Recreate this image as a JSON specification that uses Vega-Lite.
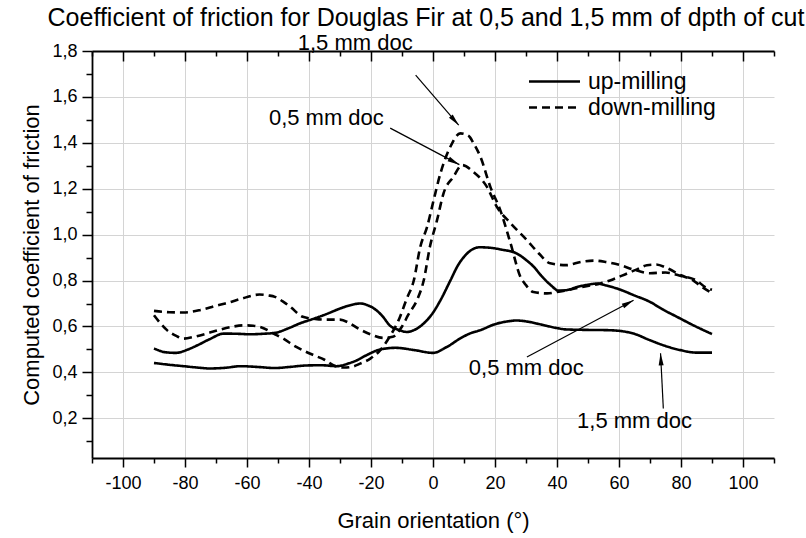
{
  "$schema": "https://vega.github.io/schema/vega-lite/v6.json",
  "width": 682,
  "height": 407,
  "autosize": {"type": "none"},
  "padding": {"left": 92, "top": 51, "right": 32, "bottom": 80},
  "background": "white",
  "config": {"font": "Liberation Sans", "view": {"stroke": null}},
  "title": {"text": "Coefficient of friction for Douglas Fir at 0,5 and 1,5 mm of dpth of cut", "fontSize": 25, "fontWeight": "normal", "color": "black", "anchor": "middle", "offset": 1, "dx": -7},
  "datasets": {
    "curves": [
      {"milling": "up-milling", "doc": "0,5", "angle": -90, "cof": 0.504},
      {"milling": "up-milling", "doc": "0,5", "angle": -86, "cof": 0.487},
      {"milling": "up-milling", "doc": "0,5", "angle": -83, "cof": 0.485},
      {"milling": "up-milling", "doc": "0,5", "angle": -79, "cof": 0.5},
      {"milling": "up-milling", "doc": "0,5", "angle": -76, "cof": 0.518},
      {"milling": "up-milling", "doc": "0,5", "angle": -72, "cof": 0.545},
      {"milling": "up-milling", "doc": "0,5", "angle": -67.5, "cof": 0.569},
      {"milling": "up-milling", "doc": "0,5", "angle": -63, "cof": 0.568},
      {"milling": "up-milling", "doc": "0,5", "angle": -59, "cof": 0.566},
      {"milling": "up-milling", "doc": "0,5", "angle": -55, "cof": 0.568},
      {"milling": "up-milling", "doc": "0,5", "angle": -51, "cof": 0.572},
      {"milling": "up-milling", "doc": "0,5", "angle": -47, "cof": 0.59},
      {"milling": "up-milling", "doc": "0,5", "angle": -43, "cof": 0.613},
      {"milling": "up-milling", "doc": "0,5", "angle": -38, "cof": 0.636},
      {"milling": "up-milling", "doc": "0,5", "angle": -34, "cof": 0.656},
      {"milling": "up-milling", "doc": "0,5", "angle": -30, "cof": 0.678},
      {"milling": "up-milling", "doc": "0,5", "angle": -26, "cof": 0.695},
      {"milling": "up-milling", "doc": "0,5", "angle": -23.5, "cof": 0.7},
      {"milling": "up-milling", "doc": "0,5", "angle": -21, "cof": 0.692},
      {"milling": "up-milling", "doc": "0,5", "angle": -19, "cof": 0.678},
      {"milling": "up-milling", "doc": "0,5", "angle": -16, "cof": 0.64},
      {"milling": "up-milling", "doc": "0,5", "angle": -14, "cof": 0.605},
      {"milling": "up-milling", "doc": "0,5", "angle": -11, "cof": 0.585},
      {"milling": "up-milling", "doc": "0,5", "angle": -8.4, "cof": 0.576},
      {"milling": "up-milling", "doc": "0,5", "angle": -6, "cof": 0.585},
      {"milling": "up-milling", "doc": "0,5", "angle": -3, "cof": 0.613},
      {"milling": "up-milling", "doc": "0,5", "angle": 0, "cof": 0.66},
      {"milling": "up-milling", "doc": "0,5", "angle": 2.4, "cof": 0.714},
      {"milling": "up-milling", "doc": "0,5", "angle": 5.6, "cof": 0.8},
      {"milling": "up-milling", "doc": "0,5", "angle": 8, "cof": 0.865},
      {"milling": "up-milling", "doc": "0,5", "angle": 11, "cof": 0.918},
      {"milling": "up-milling", "doc": "0,5", "angle": 15, "cof": 0.945},
      {"milling": "up-milling", "doc": "0,5", "angle": 19, "cof": 0.942},
      {"milling": "up-milling", "doc": "0,5", "angle": 22, "cof": 0.935},
      {"milling": "up-milling", "doc": "0,5", "angle": 27, "cof": 0.918},
      {"milling": "up-milling", "doc": "0,5", "angle": 30, "cof": 0.89},
      {"milling": "up-milling", "doc": "0,5", "angle": 32.5, "cof": 0.86},
      {"milling": "up-milling", "doc": "0,5", "angle": 35, "cof": 0.82},
      {"milling": "up-milling", "doc": "0,5", "angle": 38, "cof": 0.78},
      {"milling": "up-milling", "doc": "0,5", "angle": 40.5, "cof": 0.756},
      {"milling": "up-milling", "doc": "0,5", "angle": 43, "cof": 0.758},
      {"milling": "up-milling", "doc": "0,5", "angle": 46.5, "cof": 0.772},
      {"milling": "up-milling", "doc": "0,5", "angle": 50, "cof": 0.782},
      {"milling": "up-milling", "doc": "0,5", "angle": 53, "cof": 0.787},
      {"milling": "up-milling", "doc": "0,5", "angle": 56, "cof": 0.778},
      {"milling": "up-milling", "doc": "0,5", "angle": 59.4, "cof": 0.765},
      {"milling": "up-milling", "doc": "0,5", "angle": 65, "cof": 0.735},
      {"milling": "up-milling", "doc": "0,5", "angle": 70, "cof": 0.707},
      {"milling": "up-milling", "doc": "0,5", "angle": 74, "cof": 0.675},
      {"milling": "up-milling", "doc": "0,5", "angle": 78.7, "cof": 0.642},
      {"milling": "up-milling", "doc": "0,5", "angle": 84, "cof": 0.605},
      {"milling": "up-milling", "doc": "0,5", "angle": 90, "cof": 0.567},

      {"milling": "up-milling", "doc": "1,5", "angle": -90, "cof": 0.441},
      {"milling": "up-milling", "doc": "1,5", "angle": -85, "cof": 0.433},
      {"milling": "up-milling", "doc": "1,5", "angle": -80.5, "cof": 0.427},
      {"milling": "up-milling", "doc": "1,5", "angle": -76, "cof": 0.421},
      {"milling": "up-milling", "doc": "1,5", "angle": -72, "cof": 0.417},
      {"milling": "up-milling", "doc": "1,5", "angle": -67, "cof": 0.42},
      {"milling": "up-milling", "doc": "1,5", "angle": -62, "cof": 0.427},
      {"milling": "up-milling", "doc": "1,5", "angle": -57, "cof": 0.424},
      {"milling": "up-milling", "doc": "1,5", "angle": -51, "cof": 0.419},
      {"milling": "up-milling", "doc": "1,5", "angle": -46, "cof": 0.424},
      {"milling": "up-milling", "doc": "1,5", "angle": -41, "cof": 0.43},
      {"milling": "up-milling", "doc": "1,5", "angle": -36, "cof": 0.431},
      {"milling": "up-milling", "doc": "1,5", "angle": -31, "cof": 0.427},
      {"milling": "up-milling", "doc": "1,5", "angle": -27, "cof": 0.44},
      {"milling": "up-milling", "doc": "1,5", "angle": -24.5, "cof": 0.453},
      {"milling": "up-milling", "doc": "1,5", "angle": -21, "cof": 0.478},
      {"milling": "up-milling", "doc": "1,5", "angle": -17, "cof": 0.5},
      {"milling": "up-milling", "doc": "1,5", "angle": -12, "cof": 0.507},
      {"milling": "up-milling", "doc": "1,5", "angle": -6, "cof": 0.497},
      {"milling": "up-milling", "doc": "1,5", "angle": 0, "cof": 0.485},
      {"milling": "up-milling", "doc": "1,5", "angle": 4.5, "cof": 0.511},
      {"milling": "up-milling", "doc": "1,5", "angle": 8.8, "cof": 0.548},
      {"milling": "up-milling", "doc": "1,5", "angle": 12, "cof": 0.57},
      {"milling": "up-milling", "doc": "1,5", "angle": 15.3, "cof": 0.584},
      {"milling": "up-milling", "doc": "1,5", "angle": 20, "cof": 0.61},
      {"milling": "up-milling", "doc": "1,5", "angle": 24, "cof": 0.622},
      {"milling": "up-milling", "doc": "1,5", "angle": 27, "cof": 0.626},
      {"milling": "up-milling", "doc": "1,5", "angle": 31, "cof": 0.62},
      {"milling": "up-milling", "doc": "1,5", "angle": 35, "cof": 0.608},
      {"milling": "up-milling", "doc": "1,5", "angle": 40, "cof": 0.593},
      {"milling": "up-milling", "doc": "1,5", "angle": 43, "cof": 0.587},
      {"milling": "up-milling", "doc": "1,5", "angle": 50, "cof": 0.585},
      {"milling": "up-milling", "doc": "1,5", "angle": 56, "cof": 0.584},
      {"milling": "up-milling", "doc": "1,5", "angle": 60, "cof": 0.581},
      {"milling": "up-milling", "doc": "1,5", "angle": 64.7, "cof": 0.569},
      {"milling": "up-milling", "doc": "1,5", "angle": 70, "cof": 0.54},
      {"milling": "up-milling", "doc": "1,5", "angle": 75, "cof": 0.515},
      {"milling": "up-milling", "doc": "1,5", "angle": 79.8, "cof": 0.497},
      {"milling": "up-milling", "doc": "1,5", "angle": 85, "cof": 0.486},
      {"milling": "up-milling", "doc": "1,5", "angle": 90, "cof": 0.486},

      {"milling": "down-milling", "doc": "0,5", "angle": -90, "cof": 0.668},
      {"milling": "down-milling", "doc": "0,5", "angle": -85, "cof": 0.662},
      {"milling": "down-milling", "doc": "0,5", "angle": -80.5, "cof": 0.661},
      {"milling": "down-milling", "doc": "0,5", "angle": -75, "cof": 0.672},
      {"milling": "down-milling", "doc": "0,5", "angle": -70, "cof": 0.69},
      {"milling": "down-milling", "doc": "0,5", "angle": -67, "cof": 0.7},
      {"milling": "down-milling", "doc": "0,5", "angle": -62, "cof": 0.72},
      {"milling": "down-milling", "doc": "0,5", "angle": -56, "cof": 0.739},
      {"milling": "down-milling", "doc": "0,5", "angle": -53, "cof": 0.735},
      {"milling": "down-milling", "doc": "0,5", "angle": -51, "cof": 0.729},
      {"milling": "down-milling", "doc": "0,5", "angle": -48, "cof": 0.705},
      {"milling": "down-milling", "doc": "0,5", "angle": -46, "cof": 0.685},
      {"milling": "down-milling", "doc": "0,5", "angle": -42, "cof": 0.642},
      {"milling": "down-milling", "doc": "0,5", "angle": -38, "cof": 0.633},
      {"milling": "down-milling", "doc": "0,5", "angle": -35, "cof": 0.63},
      {"milling": "down-milling", "doc": "0,5", "angle": -30, "cof": 0.63},
      {"milling": "down-milling", "doc": "0,5", "angle": -27, "cof": 0.615},
      {"milling": "down-milling", "doc": "0,5", "angle": -24, "cof": 0.59},
      {"milling": "down-milling", "doc": "0,5", "angle": -20, "cof": 0.565},
      {"milling": "down-milling", "doc": "0,5", "angle": -16, "cof": 0.55},
      {"milling": "down-milling", "doc": "0,5", "angle": -13, "cof": 0.555},
      {"milling": "down-milling", "doc": "0,5", "angle": -10, "cof": 0.6},
      {"milling": "down-milling", "doc": "0,5", "angle": -8, "cof": 0.65},
      {"milling": "down-milling", "doc": "0,5", "angle": -5, "cof": 0.72},
      {"milling": "down-milling", "doc": "0,5", "angle": -3, "cof": 0.8},
      {"milling": "down-milling", "doc": "0,5", "angle": -1, "cof": 0.947},
      {"milling": "down-milling", "doc": "0,5", "angle": 1.3, "cof": 1.063},
      {"milling": "down-milling", "doc": "0,5", "angle": 3.4, "cof": 1.18},
      {"milling": "down-milling", "doc": "0,5", "angle": 6.6, "cof": 1.252},
      {"milling": "down-milling", "doc": "0,5", "angle": 9.4, "cof": 1.303},
      {"milling": "down-milling", "doc": "0,5", "angle": 13, "cof": 1.274},
      {"milling": "down-milling", "doc": "0,5", "angle": 17.4, "cof": 1.208},
      {"milling": "down-milling", "doc": "0,5", "angle": 20.6, "cof": 1.121},
      {"milling": "down-milling", "doc": "0,5", "angle": 25, "cof": 1.05},
      {"milling": "down-milling", "doc": "0,5", "angle": 30.3, "cof": 0.976},
      {"milling": "down-milling", "doc": "0,5", "angle": 34, "cof": 0.92},
      {"milling": "down-milling", "doc": "0,5", "angle": 37.8, "cof": 0.875},
      {"milling": "down-milling", "doc": "0,5", "angle": 43, "cof": 0.867},
      {"milling": "down-milling", "doc": "0,5", "angle": 48, "cof": 0.882},
      {"milling": "down-milling", "doc": "0,5", "angle": 52, "cof": 0.887},
      {"milling": "down-milling", "doc": "0,5", "angle": 56, "cof": 0.88},
      {"milling": "down-milling", "doc": "0,5", "angle": 60.4, "cof": 0.867},
      {"milling": "down-milling", "doc": "0,5", "angle": 64.7, "cof": 0.848},
      {"milling": "down-milling", "doc": "0,5", "angle": 70, "cof": 0.832},
      {"milling": "down-milling", "doc": "0,5", "angle": 75, "cof": 0.835},
      {"milling": "down-milling", "doc": "0,5", "angle": 80, "cof": 0.82},
      {"milling": "down-milling", "doc": "0,5", "angle": 85, "cof": 0.8},
      {"milling": "down-milling", "doc": "0,5", "angle": 88, "cof": 0.77},
      {"milling": "down-milling", "doc": "0,5", "angle": 90, "cof": 0.76},

      {"milling": "down-milling", "doc": "1,5", "angle": -90, "cof": 0.649},
      {"milling": "down-milling", "doc": "1,5", "angle": -88, "cof": 0.615},
      {"milling": "down-milling", "doc": "1,5", "angle": -85.8, "cof": 0.584},
      {"milling": "down-milling", "doc": "1,5", "angle": -83, "cof": 0.56},
      {"milling": "down-milling", "doc": "1,5", "angle": -80.5, "cof": 0.547},
      {"milling": "down-milling", "doc": "1,5", "angle": -77, "cof": 0.555},
      {"milling": "down-milling", "doc": "1,5", "angle": -73, "cof": 0.569},
      {"milling": "down-milling", "doc": "1,5", "angle": -69, "cof": 0.585},
      {"milling": "down-milling", "doc": "1,5", "angle": -65, "cof": 0.598},
      {"milling": "down-milling", "doc": "1,5", "angle": -61, "cof": 0.605},
      {"milling": "down-milling", "doc": "1,5", "angle": -58, "cof": 0.603},
      {"milling": "down-milling", "doc": "1,5", "angle": -55.7, "cof": 0.598},
      {"milling": "down-milling", "doc": "1,5", "angle": -51.4, "cof": 0.569},
      {"milling": "down-milling", "doc": "1,5", "angle": -48, "cof": 0.545},
      {"milling": "down-milling", "doc": "1,5", "angle": -45, "cof": 0.518},
      {"milling": "down-milling", "doc": "1,5", "angle": -41, "cof": 0.49},
      {"milling": "down-milling", "doc": "1,5", "angle": -38.5, "cof": 0.475},
      {"milling": "down-milling", "doc": "1,5", "angle": -35, "cof": 0.455},
      {"milling": "down-milling", "doc": "1,5", "angle": -32, "cof": 0.43},
      {"milling": "down-milling", "doc": "1,5", "angle": -28.8, "cof": 0.421},
      {"milling": "down-milling", "doc": "1,5", "angle": -26, "cof": 0.425},
      {"milling": "down-milling", "doc": "1,5", "angle": -23.5, "cof": 0.438},
      {"milling": "down-milling", "doc": "1,5", "angle": -20.2, "cof": 0.46},
      {"milling": "down-milling", "doc": "1,5", "angle": -17, "cof": 0.497},
      {"milling": "down-milling", "doc": "1,5", "angle": -14, "cof": 0.555},
      {"milling": "down-milling", "doc": "1,5", "angle": -11, "cof": 0.63},
      {"milling": "down-milling", "doc": "1,5", "angle": -8.5, "cof": 0.72},
      {"milling": "down-milling", "doc": "1,5", "angle": -6.2, "cof": 0.8},
      {"milling": "down-milling", "doc": "1,5", "angle": -4.1, "cof": 0.947},
      {"milling": "down-milling", "doc": "1,5", "angle": -1.9, "cof": 1.034},
      {"milling": "down-milling", "doc": "1,5", "angle": 0.2, "cof": 1.15},
      {"milling": "down-milling", "doc": "1,5", "angle": 2.4, "cof": 1.267},
      {"milling": "down-milling", "doc": "1,5", "angle": 5.6, "cof": 1.383},
      {"milling": "down-milling", "doc": "1,5", "angle": 8.8, "cof": 1.441},
      {"milling": "down-milling", "doc": "1,5", "angle": 11.5, "cof": 1.43},
      {"milling": "down-milling", "doc": "1,5", "angle": 13, "cof": 1.4},
      {"milling": "down-milling", "doc": "1,5", "angle": 15.3, "cof": 1.339},
      {"milling": "down-milling", "doc": "1,5", "angle": 18.5, "cof": 1.208},
      {"milling": "down-milling", "doc": "1,5", "angle": 21.7, "cof": 1.107},
      {"milling": "down-milling", "doc": "1,5", "angle": 25, "cof": 0.963},
      {"milling": "down-milling", "doc": "1,5", "angle": 28.2, "cof": 0.816},
      {"milling": "down-milling", "doc": "1,5", "angle": 30, "cof": 0.78},
      {"milling": "down-milling", "doc": "1,5", "angle": 32.4, "cof": 0.75},
      {"milling": "down-milling", "doc": "1,5", "angle": 36.8, "cof": 0.744},
      {"milling": "down-milling", "doc": "1,5", "angle": 40, "cof": 0.75},
      {"milling": "down-milling", "doc": "1,5", "angle": 43.2, "cof": 0.758},
      {"milling": "down-milling", "doc": "1,5", "angle": 48, "cof": 0.772},
      {"milling": "down-milling", "doc": "1,5", "angle": 54, "cof": 0.787},
      {"milling": "down-milling", "doc": "1,5", "angle": 58, "cof": 0.805},
      {"milling": "down-milling", "doc": "1,5", "angle": 62.6, "cof": 0.831},
      {"milling": "down-milling", "doc": "1,5", "angle": 66, "cof": 0.85},
      {"milling": "down-milling", "doc": "1,5", "angle": 69, "cof": 0.867},
      {"milling": "down-milling", "doc": "1,5", "angle": 72, "cof": 0.87},
      {"milling": "down-milling", "doc": "1,5", "angle": 75.5, "cof": 0.854},
      {"milling": "down-milling", "doc": "1,5", "angle": 80, "cof": 0.823},
      {"milling": "down-milling", "doc": "1,5", "angle": 84, "cof": 0.8},
      {"milling": "down-milling", "doc": "1,5", "angle": 87, "cof": 0.77},
      {"milling": "down-milling", "doc": "1,5", "angle": 90, "cof": 0.745}
    ],
    "notes": [
      {"id": 1, "label": "1,5 mm doc", "tx": -25.1, "ty": 1.835, "x0": -5.6, "y0": 1.695, "x1": 8.3, "y1": 1.477},
      {"id": 2, "label": "0,5 mm doc", "tx": -34.4, "ty": 1.507, "x0": -13.8, "y0": 1.464, "x1": 8.5, "y1": 1.305},
      {"id": 3, "label": "0,5 mm doc", "tx": 30.1, "ty": 0.418, "x0": 30.3, "y0": 0.467, "x1": 64.7, "y1": 0.714},
      {"id": 4, "label": "1,5 mm doc", "tx": 65, "ty": 0.187, "x0": 74.3, "y0": 0.243, "x1": 73.4, "y1": 0.483}
    ]
  },
  "layer": [
    {
      "data": {"name": "curves"},
      "mark": {"type": "line", "interpolate": "monotone", "color": "black", "strokeWidth": 2.6},
      "encoding": {
        "x": {
          "field": "angle", "type": "quantitative",
          "scale": {"domain": [-110, 110], "nice": false, "zero": false},
          "axis": {
            "orient": "bottom",
            "values": [-110, -100, -90, -80, -70, -60, -50, -40, -30, -20, -10, 0, 10, 20, 30, 40, 50, 60, 70, 80, 90, 100, 110],
            "labelExpr": "datum.value % 20 === 0 ? '' + datum.value : ''",
            "labelFontSize": 18, "labelColor": "black", "labelPadding": 7, "labelOverlap": false, "labelFlush": false,
            "tickSize": {"condition": {"test": "datum.value % 20 === 0", "value": 9}, "value": 5},
            "tickColor": "black", "tickWidth": 1.5,
            "domainColor": "black", "domainWidth": 1.8,
            "grid": true, "gridColor": "#d4d4d4", "gridWidth": 1,
            "gridOpacity": {"condition": {"test": "datum.value % 20 === 0", "value": 1}, "value": 0},
            "title": "Grain orientation (°)", "titleFontSize": 22, "titleFontWeight": "normal", "titleColor": "black", "titlePadding": 18
          }
        },
        "y": {
          "field": "cof", "type": "quantitative",
          "scale": {"domain": [0.027, 1.8], "nice": false, "zero": false},
          "axis": {
            "orient": "left",
            "values": [0.1, 0.2, 0.3, 0.4, 0.5, 0.6, 0.7, 0.8, 0.9, 1.0, 1.1, 1.2, 1.3, 1.4, 1.5, 1.6, 1.7, 1.8],
            "labelExpr": "round(datum.value * 10) % 2 === 0 ? replace(format(datum.value, '.1f'), '.', ',') : ''",
            "labelFontSize": 18, "labelColor": "black", "labelPadding": 5, "labelOverlap": false, "labelFlush": false,
            "tickSize": {"condition": {"test": "round(datum.value * 10) % 2 === 0", "value": 10}, "value": 6},
            "tickColor": "black", "tickWidth": 1.5,
            "domainColor": "black", "domainWidth": 1.8,
            "grid": true, "gridColor": "#d4d4d4", "gridWidth": 1,
            "gridOpacity": {"condition": {"test": "round(datum.value * 10) % 2 === 0 && datum.value < 1.75", "value": 1}, "value": 0},
            "title": "Computed coefficient of friction", "titleFontSize": 22, "titleFontWeight": "normal", "titleColor": "black", "titlePadding": 8
          }
        },
        "strokeDash": {
          "field": "milling", "type": "nominal",
          "scale": {"domain": ["up-milling", "down-milling"], "range": [[1, 0], [8, 5]]},
          "legend": {
            "orient": "none", "legendX": 451, "legendY": 19, "title": null,
            "symbolType": "M-20,0H20", "symbolSize": 6.5, "symbolStrokeWidth": 2.5, "symbolStrokeColor": "black",
            "labelFontSize": 23, "labelOffset": 22, "labelColor": "black", "rowPadding": 2
          }
        },
        "detail": {"field": "doc", "type": "nominal"}
      }
    },
    {
      "data": {"name": "notes"},
      "mark": {"type": "rule", "color": "black", "strokeWidth": 1.2},
      "encoding": {
        "x": {
          "field": "x0", "type": "quantitative",
          "scale": {"domain": [-110, 110], "nice": false, "zero": false},
          "axis": {
            "orient": "top",
            "values": [-110, -100, -90, -80, -70, -60, -50, -40, -30, -20, -10, 0, 10, 20, 30, 40, 50, 60, 70, 80, 90, 100, 110],
            "labels": false, "title": null, "grid": false,
            "domainColor": "black", "domainWidth": 1.8,
            "tickColor": "black", "tickWidth": 1.5,
            "tickSize": {"condition": {"test": "datum.value % 20 === 0", "value": -10}, "value": -5}
          }
        },
        "y": {"field": "y0", "type": "quantitative", "scale": {"domain": [0.027, 1.8], "nice": false, "zero": false}, "axis": null},
        "x2": {"field": "x1"},
        "y2": {"field": "y1"}
      }
    },
    {
      "data": {"name": "notes"},
      "mark": {"type": "point", "shape": "M0,0L1,4.8L-1,4.8Z", "filled": true, "color": "black", "opacity": 1, "size": 25, "strokeWidth": 0},
      "encoding": {
        "x": {"field": "x1", "type": "quantitative", "scale": {"domain": [-110, 110], "nice": false, "zero": false}, "axis": null},
        "y": {"field": "y1", "type": "quantitative", "scale": {"domain": [0.027, 1.8], "nice": false, "zero": false}, "axis": null},
        "angle": {"field": "id", "type": "quantitative", "scale": {"type": "threshold", "domain": [1.5, 2.5, 3.5], "range": [139, 118, 62, 357]}, "legend": null}
      }
    },
    {
      "data": {"name": "notes"},
      "mark": {"type": "text", "fontSize": 22, "color": "black", "align": "center", "baseline": "middle"},
      "encoding": {
        "x": {"field": "tx", "type": "quantitative", "scale": {"domain": [-110, 110], "nice": false, "zero": false}, "axis": null},
        "y": {"field": "ty", "type": "quantitative", "scale": {"domain": [0.027, 1.8], "nice": false, "zero": false}, "axis": null},
        "text": {"field": "label"}
      }
    }
  ],
  "resolve": {"axis": {"x": "independent", "y": "independent"}}
}
